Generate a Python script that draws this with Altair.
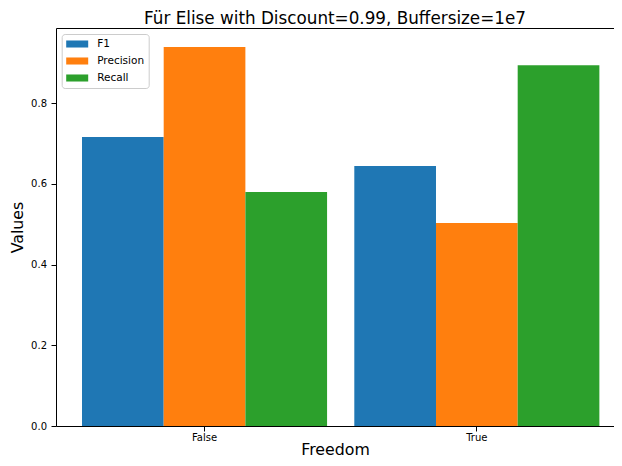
import altair as alt
import pandas as pd

freedom = ["False", "True"]
metrics = ["F1", "Precision", "Recall"]
f1 = [0.716, 0.644]
precision = [0.939, 0.503]
recall = [0.580, 0.894]
colors = ["#1f77b4", "#ff7f0e", "#2ca02c"]
y_ticks = [0.0, 0.2, 0.4, 0.6, 0.8]

rows = []
for i, f in enumerate(freedom):
    for m, vals in zip(metrics, [f1, precision, recall]):
        rows.append({"Freedom": f, "Metric": m, "Value": vals[i]})
df = pd.DataFrame(rows)

FONT = "DejaVu Sans"

x_scale = alt.Scale(paddingInner=0.1, paddingOuter=0.0746, align=0.64)
y_scale = alt.Scale(domain=[0, 0.986], nice=False)
off = alt.XOffset("Metric:N", sort=metrics,
                  scale=alt.Scale(paddingInner=0, paddingOuter=0))

bars = alt.Chart(df).mark_bar().encode(
    x=alt.X("Freedom:N", sort=freedom, scale=x_scale,
            axis=alt.Axis(title="Freedom", labelAngle=0, titleFontSize=15.8,
                          titlePadding=0, labelPadding=1, tickSize=5,
                          domain=True)),
    xOffset=off,
    y=alt.Y("Value:Q", scale=y_scale,
            axis=alt.Axis(title="Values", values=y_ticks,
                          format=".1f", titleFontSize=15.8, titlePadding=5,
                          labelPadding=4.5, tickSize=5, grid=False,
                          domain=True)),
    color=alt.Color("Metric:N", sort=metrics,
                    scale=alt.Scale(domain=metrics, range=colors),
                    legend=alt.Legend(
                        title=None, orient="none", legendX=5.7, legendY=6,
                        symbolType="M -1 -0.64 L 3 -0.64 L 3 0.64 L -1 0.64 Z",
                        symbolSize=121, symbolStrokeWidth=0,
                        symbolOpacity=1,
                        labelFontSize=10.5, labelFont=FONT, labelColor="black",
                        rowPadding=6, padding=4.5, fillColor="white",
                        strokeColor="#cccccc", cornerRadius=3,
                        labelOffset=20)),
)

topline = alt.Chart(df).mark_bar(opacity=0).encode(
    x=alt.X("Freedom:N", sort=freedom, scale=x_scale,
            axis=alt.Axis(orient="top", labels=False, ticks=False,
                          title=None, domain=True)),
    xOffset=off,
    y=alt.Y("Value:Q", scale=y_scale, axis=None),
)

chart = alt.layer(bars, topline).resolve_axis(
    x="independent", y="independent"
).properties(
    width=558, height=398,
    title=alt.TitleParams("Für Elise with Discount=0.99, Buffersize=1e7",
                          fontSize=16.8, font=FONT, fontWeight="normal",
                          anchor="middle", offset=0.5, color="black"),
    autosize=alt.AutoSizeParams(type="none"),
    padding={"left": 48, "top": 20, "right": 0, "bottom": 32},
).configure_view(
    stroke=None
).configure_axis(
    tickColor="black", labelColor="black", domainColor="black",
    domainWidth=1, titleColor="black", labelFont=FONT, titleFont=FONT,
    labelFontSize=10, titleFontWeight="normal", tickWidth=1
)

chart.save("out.html", embed_options={"renderer": "svg", "actions": False})
